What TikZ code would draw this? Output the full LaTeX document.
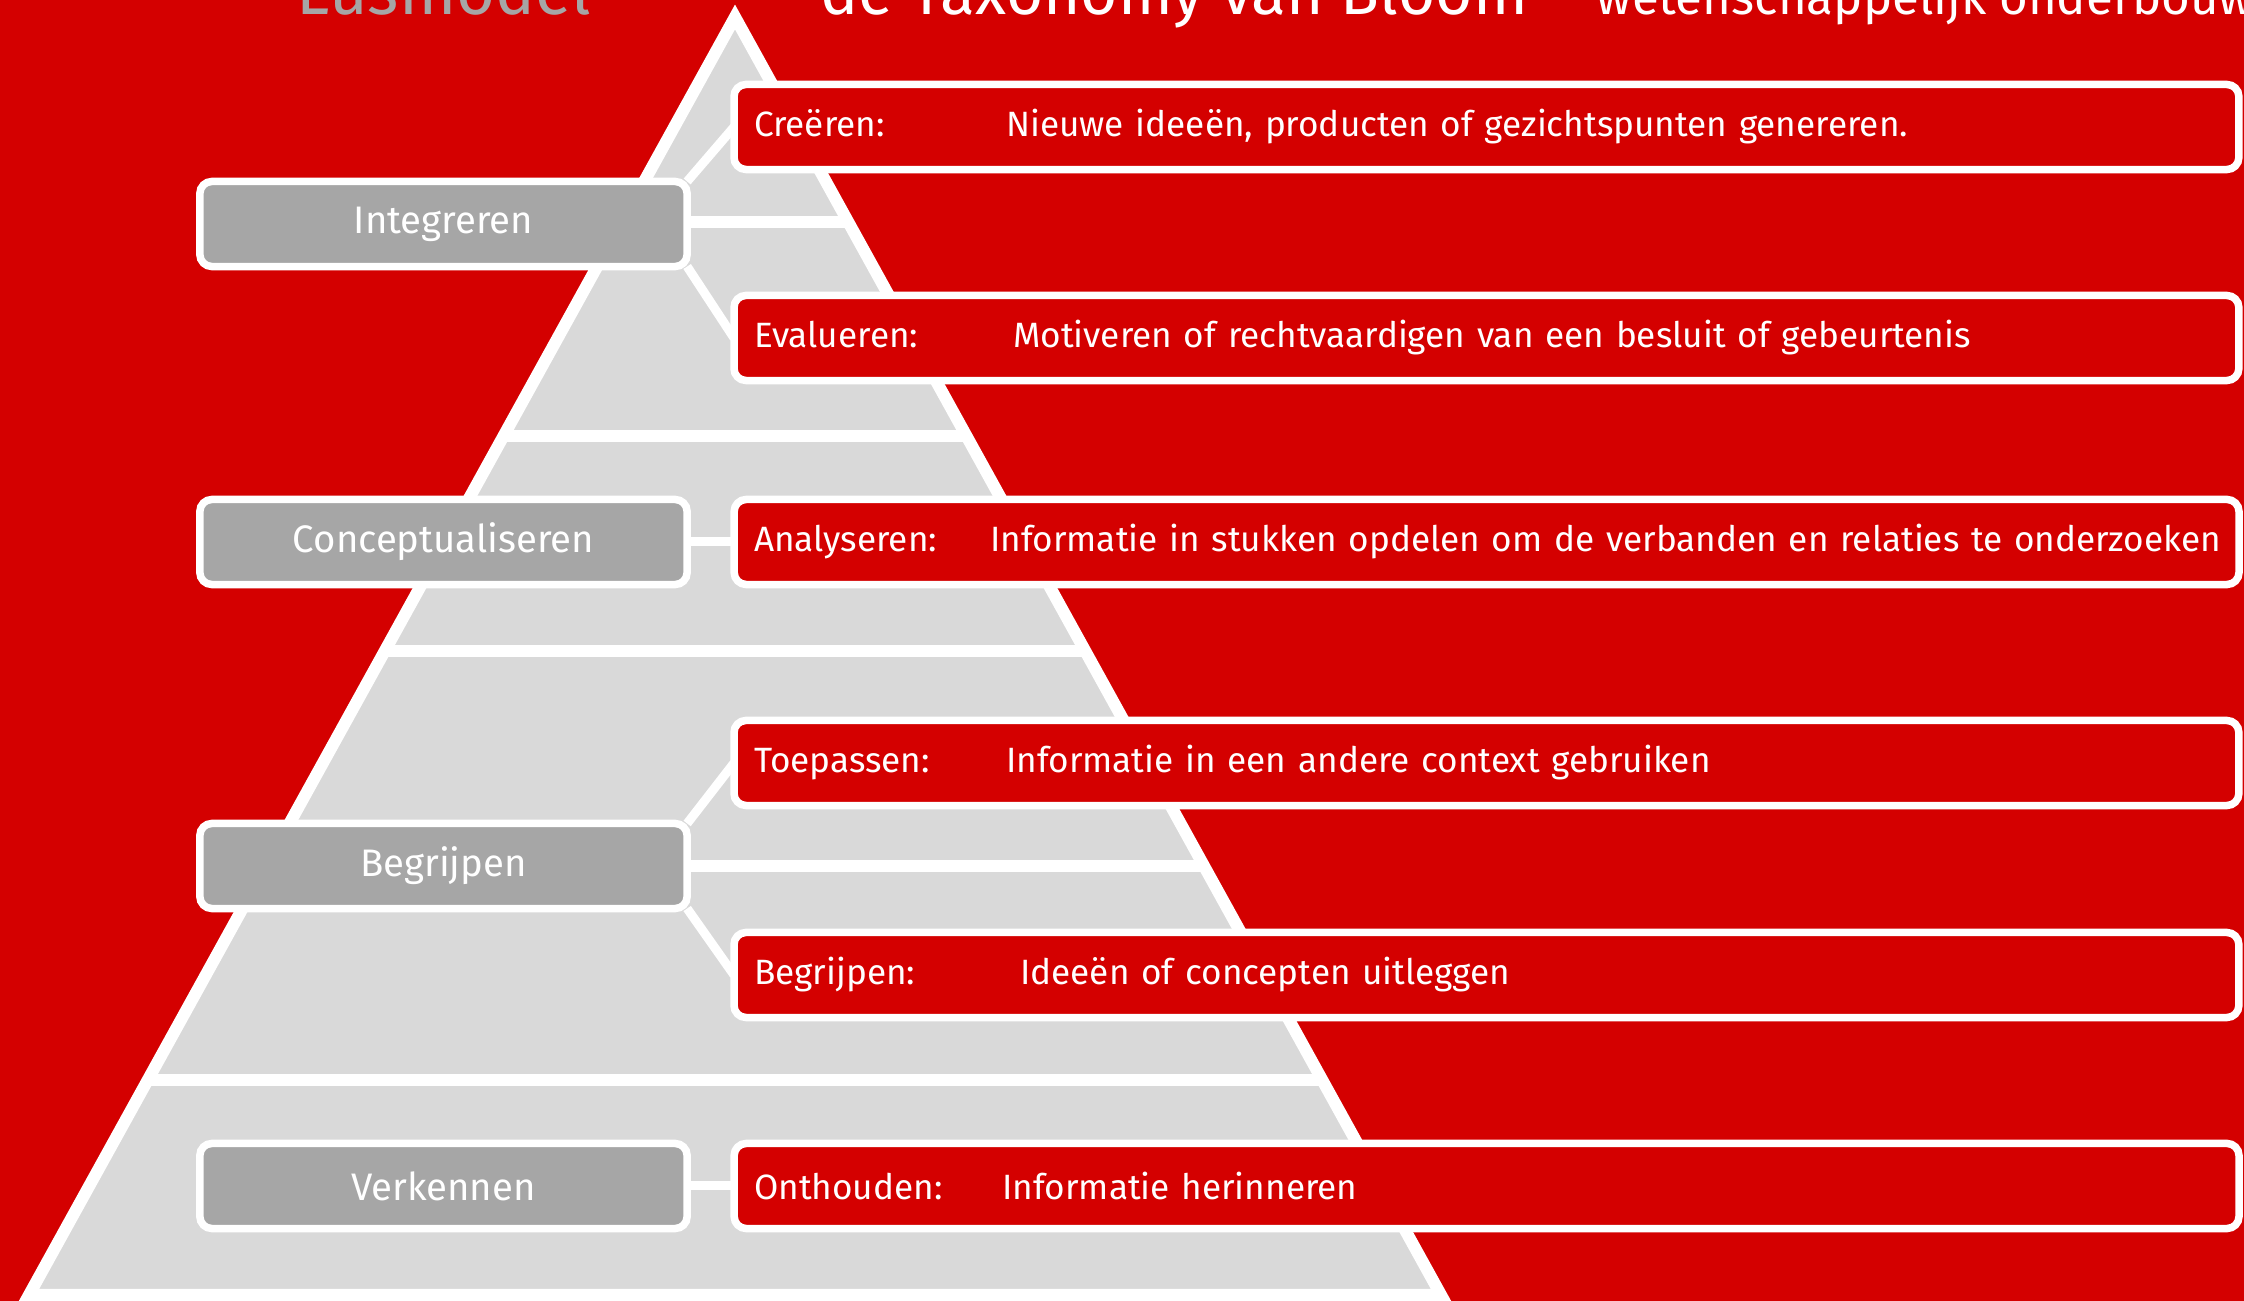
\documentclass[tikz,border=0pt]{standalone}
\usepackage{fontspec}
\setmainfont{Fira Sans}
\usepackage{xcolor}
\usepackage{tikz}
\usetikzlibrary{positioning,calc}

\definecolor{bgred}{RGB}{212,0,0}
\definecolor{boxgrey}{RGB}{166,166,166}
\definecolor{pyrgrey}{RGB}{217,217,217}

% label with fixed width, then the explanation
\newcommand{\rij}[3][2.52cm]{\makebox[#1][l]{#2}\mbox{#3}}

\begin{document}
\begin{tikzpicture}[x=0.01cm, y=-0.01cm, node distance=0.47cm,
    fase/.style={rectangle, draw=white, line width=0.075cm, fill=boxgrey, rounded corners=0.12cm, minimum width=4.87cm, minimum height=0.85cm, outer sep=0pt, text=white, font=\fontsize{10.9}{13}\selectfont},
    uitleg/.style={rectangle, draw=white, line width=0.075cm, fill=bgred, rounded corners=0.12cm, minimum height=0.85cm, text width=14.64cm, inner xsep=0.2cm, align=left, outer sep=0pt, text=white, font=\fontsize{10}{12}\selectfont},
    koppel/.style={draw=white, line width=0.09cm}]

    \useasboundingbox (0,0) rectangle (2244,1301);
    \fill[bgred] (0,0) rectangle (2244,1301);

    % titles, cut off at the top
    \node[anchor=base west, inner sep=0pt, text=boxgrey, font=\fontsize{19}{23}\selectfont] (lus) at (296,15) {Lusmodel};
    \node[anchor=base west, inner sep=0pt, text=white, font=\fontsize{18.2}{22}\selectfont] (taxo) at (820,15) {de Taxonomy van Bloom};
    \node[anchor=base west, inner sep=0pt, text=white, font=\fontsize{14}{17}\selectfont] (wet) at (1596,15) {wetenschappelijk onderbouwd};

    % pyramid
    \coordinate (top) at (735,17);
    \coordinate (lo) at (29,1295);
    \coordinate (ro) at (1441,1295);
    \begin{scope}
        \clip (top) -- (lo) -- (ro) -- cycle;
        \fill[pyrgrey] (top) -- (lo) -- (ro) -- cycle;
        \foreach \y in {222,436,651,866,1080}
            \draw[white, line width=0.12cm] (0,\y) -- (1500,\y);
    \end{scope}
    \draw[white, line width=0.12cm] (top) -- (lo) -- (ro) -- cycle;

    % phases
    \node[fase] (integ) at (443.5,224) {Integreren};
    \node[fase] (concept) at (443.5,542) {Conceptualiseren};
    \node[fase] (begrip) at (443.5,866) {Begrijpen};
    \node[fase] (verken) at (443.5,1186) {Verkennen};

    % levels of Bloom
    \node[uitleg, anchor=west] (creeren) at (734,127) {\rij{Creëren:}{Nieuwe ideeën, producten of gezichtspunten genereren.}};
    \node[uitleg, anchor=west] (evalueren) at (734,338) {\rij[2.59cm]{Evalueren:}{Motiveren of rechtvaardigen van een besluit of gebeurtenis}};
    \node[uitleg, right=of concept] (analyseren) {\rij[2.36cm]{Analyseren:}{Informatie in stukken opdelen om de verbanden en relaties te onderzoeken}};
    \node[uitleg, anchor=west] (toepassen) at (734,763) {\rij{Toepassen:}{Informatie in een andere context gebruiken}};
    \node[uitleg, anchor=west] (begrijpen) at (734,975) {\rij[2.66cm]{Begrijpen:}{Ideeën of concepten uitleggen}};
    \node[uitleg, right=of verken] (onthouden) {\rij[2.48cm]{Onthouden:}{Informatie herinneren}};

    \draw[koppel] (integ.north east) -- (creeren.west);
    \draw[koppel] (integ.south east) -- (evalueren.west);
    \draw[koppel] (concept) -- (analyseren);
    \draw[koppel] (begrip.north east) -- (toepassen.west);
    \draw[koppel] (begrip.south east) -- (begrijpen.west);
    \draw[koppel] (verken) -- (onthouden);
\end{tikzpicture}
\end{document}
